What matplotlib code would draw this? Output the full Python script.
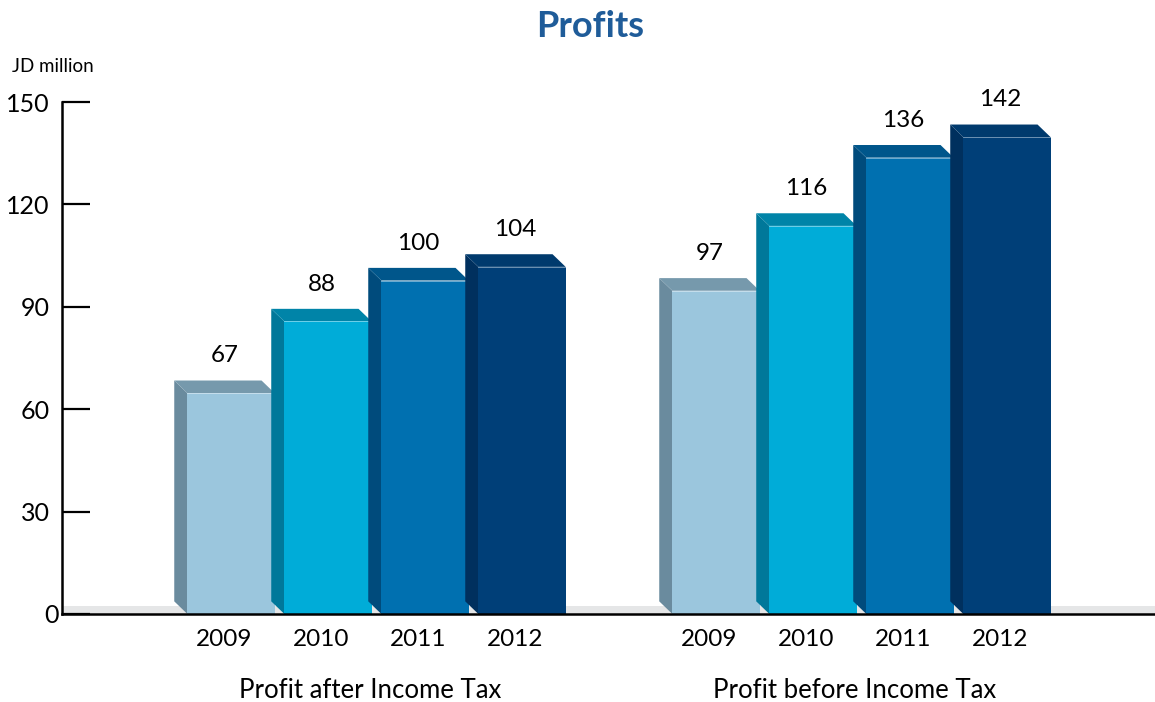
import numpy as np
import matplotlib
matplotlib.use("Agg")
import matplotlib.pyplot as plt
from matplotlib.patches import Polygon
from matplotlib.transforms import ScaledTranslation

plt.rcParams['font.family'] = ['Lato', 'DejaVu Sans']

years = ['2009', '2010', '2011', '2012']
groups = ['Profit after Income Tax', 'Profit before Income Tax']
after_tax = [67, 88, 100, 104]
before_tax = [97, 116, 136, 142]

front_cols = ['#9bc6dd', '#00acd8', '#0070b0', '#003f78']
side_cols = ['#6a8b9e', '#00789a', '#004b7c', '#00305e']
top_cols = ['#7699ac', '#0084a8', '#00568b', '#003a6d']

W = 0.9      # front face width
DX = -0.135  # depth offset (x)
DY = 3.7     # depth offset (y)
SINK = 2.3   # front top sits below the value

fig = plt.figure(figsize=(11.55, 7.02), dpi=100)
ax = fig.add_axes([0.0537, 0.1254, 0.9463, 0.7293])

values = after_tax + before_tax
pos = np.r_[np.arange(4), np.arange(4) + 5]

ax.axhspan(0, 2.3, color='#e5e6e7', zorder=0, lw=0)

for i, (p, v) in enumerate(zip(pos, values)):
    c = i % 4
    x0, x1 = p - W / 2, p + W / 2
    ft = v - SINK
    side = Polygon([(x0, 0), (x0, ft), (x0 + DX, ft + DY), (x0 + DX, DY)],
                   closed=True, fc=side_cols[c], ec='none', zorder=2 + i)
    top = Polygon([(x0, ft), (x1, ft), (x1 + DX, ft + DY), (x0 + DX, ft + DY)],
                  closed=True, fc=top_cols[c], ec='none', zorder=2 + i)
    front = Polygon([(x0, 0), (x1, 0), (x1, ft), (x0, ft)],
                    closed=True, fc=front_cols[c], ec='none', zorder=2 + i)
    ax.add_patch(side)
    ax.add_patch(top)
    ax.add_patch(front)
    ax.plot([x0, x1], [ft, ft], color='white', lw=0.6, alpha=0.5, zorder=2 + i)
    ax.text(p + DX / 2, v + 8.6, str(v), ha='center', va='center',
            fontsize=17.5, color='black', zorder=20)

ax.set_xlim(-1.742, 9.526)
ax.set_ylim(0, 150)
ax.set_yticks([0, 30, 60, 90, 120, 150])
ax.set_xticks(pos + DX / 2)
ax.set_xticklabels(years * 2, fontsize=17.5)
ax.tick_params(axis='x', length=0, pad=11)
ax.tick_params(axis='y', direction='in', length=20, width=1.6, labelsize=18, pad=9)

# the zero label sits right against the axis in the original
zero_lab = ax.get_yticklabels()[0]
zero_lab.set_transform(zero_lab.get_transform()
                       + ScaledTranslation(7 / 72, 0, fig.dpi_scale_trans))

for s in ['top', 'right']:
    ax.spines[s].set_visible(False)
for s in ['left', 'bottom']:
    ax.spines[s].set_linewidth(1.8)
    ax.spines[s].set_zorder(30)

for g, name in enumerate(groups):
    ax.text(1.5 + 5 * g + DX / 2, -0.15, name, transform=ax.get_xaxis_transform(),
            ha='center', va='center', fontsize=18.5)

fig.text(0.511, 0.962, 'Profits', ha='center', va='center', fontsize=26,
         fontweight='bold', color='#1f5c99')
fig.text(0.010, 0.905, 'JD million', ha='left', va='center', fontsize=13.5)

fig.savefig('out.png', dpi=100)
